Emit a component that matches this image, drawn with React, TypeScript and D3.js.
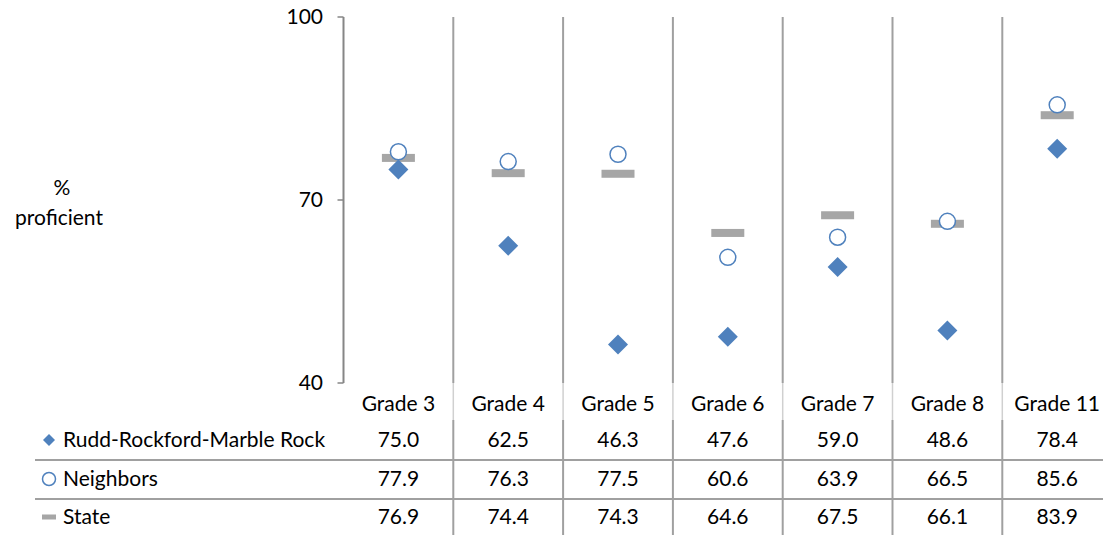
import React from "react";
import * as d3 from "d3";

const categories = ["Grade 3", "Grade 4", "Grade 5", "Grade 6", "Grade 7", "Grade 8", "Grade 11"];
const ruddValues = [75.0, 62.5, 46.3, 47.6, 59.0, 48.6, 78.4];
const neighborValues = [77.9, 76.3, 77.5, 60.6, 63.9, 66.5, 85.6];
const stateValues = [76.9, 74.4, 74.3, 64.6, 67.5, 66.1, 83.9];
const yTicks = [40, 70, 100];
const seriesNames = ["Rudd-Rockford-Marble Rock", "Neighbors", "State"];

const W = 1103, H = 535;
const FONT = "Lato, 'Open Sans', sans-serif";
const FS = 21;
const BLUE = "#4f81bd";
const GRAY = "#a6a6a6";
const LINE = "#a0a0a0";

export default function App() {
  const left = 343.5;
  const colW = 109.8;
  const x = d3.scaleBand<string>().domain(categories).range([left, left + colW * categories.length]);
  const y = d3.scaleLinear().domain([40, 100]).range([383, 17]);
  const rowY = [440, 479, 517];
  const tableTop = 420;
  const rows = [ruddValues, neighborValues, stateValues];

  const marker = (i: number, cx: number, cy: number, legend = false) => {
    if (i === 0) {
      const r = legend ? 6 : 10;
      return <path d={`M${cx},${cy - r}L${cx + r},${cy}L${cx},${cy + r}L${cx - r},${cy}Z`} fill={BLUE} />;
    }
    if (i === 1) {
      const r = legend ? 6.5 : 8;
      return <circle cx={cx} cy={cy} r={r} fill="#fff" stroke={BLUE} strokeWidth={1.5} />;
    }
    const w = legend ? 14 : 33, h = legend ? 5 : 8;
    return <rect x={cx - w / 2} y={cy - h / 2} width={w} height={h} fill={GRAY} />;
  };

  return (
    <svg width={W} height={H} style={{ position: "absolute", left: 0, top: 0, background: "#fff" }} fontFamily={FONT}>
      {categories.map((c) => {
        const xx = x(c)! + x.bandwidth();
        return (
          <g key={c}>
            <line x1={xx} x2={xx} y1={17} y2={383} stroke={LINE} strokeWidth={2} />
            <line x1={xx} x2={xx} y1={383} y2={tableTop} stroke="#d0d0d0" strokeWidth={1.5} />
            <line x1={xx} x2={xx} y1={tableTop} y2={H} stroke={LINE} strokeWidth={2} />
          </g>
        );
      })}
      <line x1={left} x2={left} y1={17} y2={383} stroke="#868686" strokeWidth={2} />
      {yTicks.map((t) => (
        <g key={t}>
          <line x1={left - 6} x2={left} y1={y(t)} y2={y(t)} stroke="#868686" strokeWidth={1.5} />
          <text x={323} y={y(t)} dy="0.35em" textAnchor="end" fontSize={FS} fill="#000">{t}</text>
        </g>
      ))}
      <text x={62} y={188} dy="0.35em" textAnchor="middle" fontSize={FS}>%</text>
      <text x={59} y={218} dy="0.35em" textAnchor="middle" fontSize={FS}>proficient</text>

      {categories.map((c, j) => {
        const cx = x(c)! + x.bandwidth() / 2;
        return (
          <g key={c}>
            {marker(2, cx, y(stateValues[j]))}
            {marker(1, cx, y(neighborValues[j]))}
            {marker(0, cx, y(ruddValues[j]))}
          </g>
        );
      })}

      {[460, 499].map((ly) => (
        <line key={ly} x1={35} x2={W} y1={ly} y2={ly} stroke={LINE} strokeWidth={2} />
      ))}
      {categories.map((c) => (
        <text key={c} x={x(c)! + x.bandwidth() / 2} y={404} dy="0.35em" textAnchor="middle" fontSize={FS}>{c}</text>
      ))}
      {rows.map((vals, i) => (
        <g key={i}>
          {marker(i, 49, rowY[i], true)}
          <text x={63} y={rowY[i]} dy="0.35em" fontSize={FS}>{seriesNames[i]}</text>
          {vals.map((v, j) => (
            <text key={j} x={x(categories[j])! + x.bandwidth() / 2} y={rowY[i]} dy="0.35em" textAnchor="middle" fontSize={FS}>{v.toFixed(1)}</text>
          ))}
        </g>
      ))}
    </svg>
  );
}
